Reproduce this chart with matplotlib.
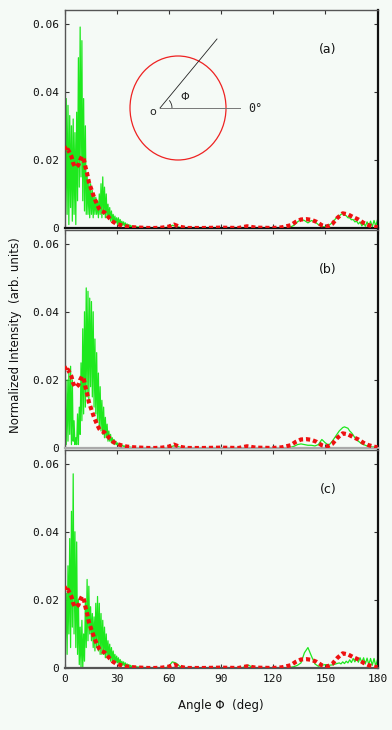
import numpy as np
import matplotlib
matplotlib.use("Agg")
import matplotlib.pyplot as plt
from matplotlib.patches import Ellipse, Arc, Circle

# ---------------- data ----------------
# green (simulation) sampling grid
green_x = np.concatenate([np.arange(0, 40.01, 0.5), np.arange(42, 158.01, 2), np.arange(159, 180.01, 1)])

green_a_head = [0.041, 0.002, 0.038, 0.004, 0.036, 0.001, 0.033, 0.006, 0.030, 0.002,
                0.032, 0.004, 0.028, 0.001, 0.034, 0.008, 0.050, 0.012, 0.059, 0.015,
                0.055, 0.008, 0.038, 0.005, 0.030, 0.004, 0.016, 0.004, 0.014, 0.003,
                0.013, 0.004, 0.011, 0.003, 0.010, 0.004, 0.009, 0.004, 0.008, 0.003,
                0.010, 0.004, 0.013, 0.003, 0.015, 0.004, 0.012, 0.003, 0.010, 0.003,
                0.007, 0.003, 0.006, 0.002, 0.005, 0.002, 0.004, 0.0015, 0.0035, 0.0015,
                0.003, 0.001, 0.003, 0.001, 0.0025, 0.001, 0.002, 0.0008, 0.0018, 0.0006,
                0.0015, 0.0005, 0.0012, 0.0004, 0.001, 0.0003, 0.0008, 0.0003, 0.0006, 0.0002,
                0.0004]
green_a_mid = ([0.0003, 0.0002, 0.0001, 0.0, 0.0, 0.0, 0.0, 0.0, 0.0001,
                0.0003, 0.0008, 0.0006, 0.0002, 0.0] + [0.0] * 30 +
               [0.0003, 0.0008, 0.0018, 0.0025, 0.0022, 0.0015, 0.0022, 0.0018, 0.001, 0.0004,
                0.0003, 0.0008, 0.0015, 0.0028, 0.0035])
green_a_tail = [0.004, 0.0042, 0.0038, 0.0036, 0.003, 0.003, 0.0024, 0.0025, 0.0018, 0.002,
                0.0012, 0.0018, 0.0006, 0.0016, 0.0005, 0.0018, 0.0005, 0.002, 0.0004, 0.0022,
                0.0006, 0.0024]

green_b_head = [0.003, 0.012, 0.001, 0.020, 0.002, 0.022, 0.004, 0.024, 0.001, 0.020,
                0.002, 0.008, 0.001, 0.003, 0.001, 0.010, 0.001, 0.012, 0.004, 0.025,
                0.008, 0.035, 0.010, 0.040, 0.012, 0.047, 0.015, 0.046, 0.014, 0.044,
                0.018, 0.043, 0.015, 0.040, 0.012, 0.032, 0.010, 0.028, 0.008, 0.022,
                0.006, 0.018, 0.005, 0.014, 0.004, 0.012, 0.003, 0.009, 0.003, 0.007,
                0.002, 0.005, 0.002, 0.004, 0.0015, 0.003, 0.0012, 0.0025, 0.001, 0.002,
                0.001, 0.0015, 0.0008, 0.0012, 0.0006, 0.001, 0.0005, 0.0008, 0.0004, 0.0006,
                0.0003, 0.0005, 0.0003, 0.0004, 0.0002, 0.0003, 0.0002, 0.0002, 0.0001, 0.0001,
                0.0001]
green_b_mid = ([0.0001, 0.0, 0.0, 0.0, 0.0, 0.0, 0.0, 0.0, 0.0001,
                0.0002, 0.0005, 0.0008, 0.0003, 0.0] + [0.0] * 30 +
               [0.0002, 0.0005, 0.001, 0.0012, 0.001, 0.0008, 0.0008, 0.0006, 0.001, 0.0025,
                0.0015, 0.0008, 0.002, 0.0035, 0.005])
green_b_tail = [0.0055, 0.006, 0.0062, 0.006, 0.0058, 0.005, 0.0045, 0.0038, 0.003, 0.0025,
                0.002, 0.0016, 0.0012, 0.001, 0.0008, 0.0006, 0.0005, 0.0004, 0.0003, 0.0003,
                0.0002, 0.0002]

green_c_head = [0.024, 0.008, 0.022, 0.004, 0.030, 0.010, 0.038, 0.006, 0.046, 0.012,
                0.057, 0.010, 0.040, 0.006, 0.037, 0.004, 0.020, 0.001, 0.012, 0.0,
                0.014, 0.0, 0.010, 0.002, 0.020, 0.006, 0.026, 0.008, 0.024, 0.010,
                0.018, 0.008, 0.016, 0.006, 0.015, 0.005, 0.019, 0.006, 0.021, 0.005,
                0.019, 0.004, 0.016, 0.004, 0.014, 0.004, 0.012, 0.003, 0.010, 0.003,
                0.008, 0.003, 0.007, 0.002, 0.006, 0.002, 0.005, 0.002, 0.004, 0.0015,
                0.0035, 0.0015, 0.003, 0.001, 0.0025, 0.001, 0.002, 0.0008, 0.0018, 0.0006,
                0.0015, 0.0005, 0.0012, 0.0004, 0.001, 0.0003, 0.0008, 0.0003, 0.0006, 0.0002,
                0.0004]
green_c_mid = ([0.0003, 0.0002, 0.0001, 0.0, 0.0, 0.0, 0.0, 0.0, 0.0,
                0.0005, 0.0018, 0.0015, 0.0006, 0.0001] + [0.0] * 17 +
               [0.0005, 0.0008, 0.0002] + [0.0] * 10 +
               [0.0002, 0.0004, 0.0008, 0.0015, 0.0045, 0.006, 0.0035, 0.0012, 0.0005, 0.0008,
                0.001, 0.0008, 0.0009, 0.0012, 0.0015])
green_c_tail = [0.0012, 0.0018, 0.0013, 0.002, 0.0015, 0.0024, 0.0016, 0.0028, 0.0018, 0.003,
                0.0017, 0.003, 0.0015, 0.003, 0.0012, 0.0029, 0.001, 0.0028, 0.0008, 0.0028,
                0.0006, 0.0025]

green_a = green_a_head + green_a_mid + green_a_tail
green_b = green_b_head + green_b_mid + green_b_tail
green_c = green_c_head + green_c_mid + green_c_tail

# red (reference) curve, same in all panels
red_x = [0, 1, 2, 3, 4, 5, 6, 7, 8, 9, 10, 11, 12, 13, 14, 15, 16, 17, 18, 19, 20,
         21, 22, 23, 24, 26, 28, 30, 32, 34, 36, 38, 40, 44, 48, 52, 56, 60, 63, 66,
         70, 80, 90, 100, 105, 110, 120, 125, 130, 133, 136, 139, 142, 145, 148, 151,
         154, 157, 160, 163, 166, 169, 172, 175, 178, 180]
red_y = [0.024, 0.0225, 0.023, 0.022, 0.021, 0.019, 0.018, 0.018, 0.0185, 0.020, 0.021,
         0.0205, 0.018, 0.016, 0.0135, 0.012, 0.0105, 0.009, 0.0078, 0.0066, 0.0056,
         0.005, 0.0048, 0.0046, 0.004, 0.0028, 0.0018, 0.0012, 0.0009, 0.0006, 0.0004,
         0.0003, 0.0002, 0.0001, 0.0, 0.0, 0.0001, 0.0004, 0.001, 0.0004,
         0.0, 0.0, 0.0001, 0.0, 0.0005, 0.0001, 0.0, 0.0002, 0.0008, 0.0018, 0.0025, 0.0026,
         0.0024, 0.0018, 0.0008, 0.0004, 0.0012, 0.003, 0.0043, 0.004, 0.0032, 0.0025,
         0.0015, 0.0008, 0.0004, 0.0002]

panel_labels = ["(a)", "(b)", "(c)"]
x_ticks = [0, 30, 60, 90, 120, 150, 180]
y_ticks = [0, 0.02, 0.04, 0.06]
y_tick_labels = ["0", "0.02", "0.04", "0.06"]

assert len(green_a) == len(green_x), (len(green_a), len(green_x))
assert len(green_b) == len(green_x), (len(green_b), len(green_x))
assert len(green_c) == len(green_x), (len(green_c), len(green_x))
assert len(red_x) == len(red_y)

# ---------------- figure ----------------
bg = "#f5faf6"
fig = plt.figure(figsize=(3.92, 7.30), dpi=100, facecolor=bg)
W, H = 392.0, 730.0
left = 64.5 / W
width = 313.0 / W
tops = [10, 230, 450]
ph = 218.0
series = [green_a, green_b, green_c]
bottom_colors = ["#111111", "#aaaaaa", "#555555"]
mono = "DejaVu Sans Mono"

axes = []
for i in range(3):
    ax = fig.add_axes([left, 1 - (tops[i] + ph) / H, width, ph / H], facecolor=bg)
    axes.append(ax)
    ax.plot(green_x, series[i], color="#1ee81e", lw=0.9, zorder=2)
    ax.plot(red_x, red_y, color="#ee1111", lw=3.0, linestyle=(0, (1.0, 0.7)),
            dash_capstyle="butt", zorder=3)
    ax.set_xlim(0, 180)
    ax.set_ylim(0, 0.064)
    ax.set_xticks(x_ticks)
    ax.set_yticks(y_ticks)
    ax.set_yticklabels(y_tick_labels, family=mono, fontsize=8)
    ax.tick_params(direction="in", length=3, width=0.8, top=True, right=True,
                   colors="#333333", labelcolor="#111111", pad=4)
    if i < 2:
        ax.set_xticklabels([])
    else:
        ax.set_xticklabels([str(t) for t in x_ticks], family=mono, fontsize=8)
        ax.set_xlabel("Angle \u03a6  (deg)", fontsize=8.5, labelpad=11, color="#111111")
    for s in ["left", "top"]:
        ax.spines[s].set_color("#555555")
        ax.spines[s].set_linewidth(1.0)
    ax.spines["right"].set_color("#111111")
    ax.spines["right"].set_linewidth(1.6)
    ax.spines["bottom"].set_color(bottom_colors[i])
    ax.spines["bottom"].set_linewidth(1.6)
    ax.text((328 - 64.5) / 313.0, 1 - (40 / ph), panel_labels[i], transform=ax.transAxes,
            fontsize=9, color="#111111", ha="center", va="center")

fig.text(16 / W, 1 - 335 / H, "Normalized Intensity  (arb. units)", rotation=90,
         fontsize=8.5, ha="center", va="center", color="#111111")

# inset sketch in panel (a)
ax = axes[0]
tr = ax.transAxes
def fx(px):
    return (px - 64.5) / 313.0
def fy(py):
    return 1 - (py - 10) / ph
ax.add_patch(Ellipse((fx(178), fy(108)), 96 / 313.0, 104 / ph, transform=tr,
                     fill=False, edgecolor="#ee2222", lw=0.9, zorder=4))
ax.plot([fx(160), fx(240)], [fy(108), fy(108)], transform=tr, color="#777777", lw=0.7, zorder=4)
ax.plot([fx(160), fx(217)], [fy(108), fy(39)], transform=tr, color="#222222", lw=0.6, zorder=4)
ax.add_patch(Arc((fx(160), fy(108)), 24 / 313.0, 24 / ph, theta1=0, theta2=50, transform=tr,
                 color="#222222", lw=0.6, zorder=4))
ax.text(fx(153), fy(112), "o", transform=tr, fontsize=8, ha="center", va="center", color="#222222")
ax.text(fx(185), fy(97), "\u03a6", transform=tr, fontsize=8, ha="center", va="center", color="#222222")
ax.text(fx(255), fy(109), "0\u00b0", transform=tr, fontsize=8.5, ha="center", va="center",
        color="#222222", family=mono)

fig.savefig("out.png", dpi=100, facecolor=bg)
